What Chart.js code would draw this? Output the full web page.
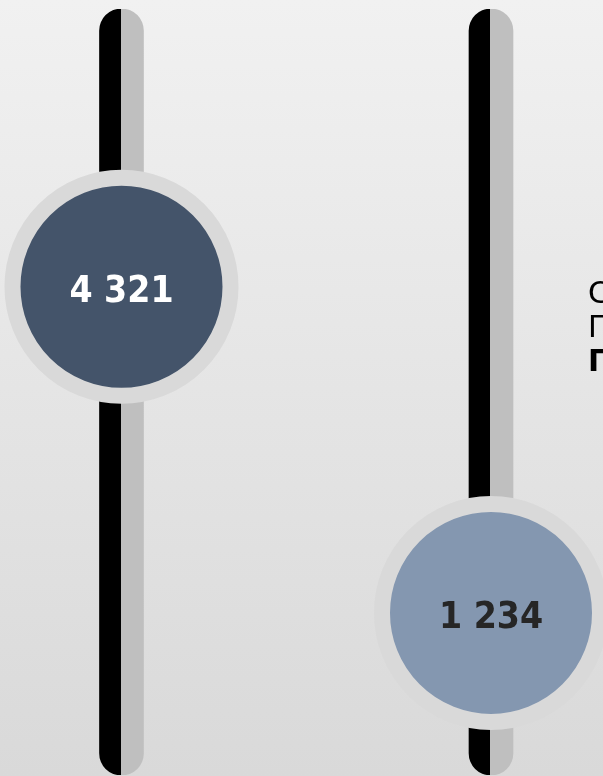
<!DOCTYPE html>
<html>
<head>
<meta charset="utf-8">
<script src="https://cdn.jsdelivr.net/npm/chart.js@4"></script>
<style>
  html, body { margin: 0; padding: 0; }
  body {
    width: 603px; height: 776px; overflow: hidden;
    background: linear-gradient(to bottom, #f1f1f1, #d9d9d9);
  }
  #wrap { position: relative; width: 603px; height: 776px; }
</style>
</head>
<body>
<div id="wrap"><canvas id="chart" width="603" height="776"></canvas></div>
<script>
// Data
const positions = [1, 2];
const values = [4321, 1234];
const valueLabels = ['4 321', '1 234'];
const fillColors = ['#44546a', '#8497b0'];
const labelColors = ['#ffffff', '#262626'];
const axisMin = -300;
const axisMax = 6950;
const sideLines = ['Сумма', 'План', 'Прогноз'];

// horizontal gradient with a hard stop: black left half, grey right half
function trackFill(c) {
  const xs = c.chart.scales && c.chart.scales.x;
  if (c.type !== 'data' || !xs || !c.raw) return '#000';
  const px = xs.getPixelForValue(c.raw.x);
  if (!isFinite(px)) return '#000';
  const g = c.chart.ctx.createLinearGradient(px - 22, 0, px + 22, 0);
  g.addColorStop(0, '#000000');
  g.addColorStop(0.48, '#000000');
  g.addColorStop(0.48, '#bfbfbf');
  g.addColorStop(1, '#bfbfbf');
  return g;
}

// Draws the value text inside the circles and the side caption.
const labelPlugin = {
  id: 'labels',
  afterDatasetsDraw(chart) {
    const ctx = chart.ctx;
    const meta = chart.getDatasetMeta(1);
    ctx.save();
    ctx.textAlign = 'center';
    ctx.textBaseline = 'alphabetic';
    ctx.font = 'bold 37px "DejaVu Sans Condensed", "DejaVu Sans"';
    meta.data.forEach((pt, i) => {
      ctx.fillStyle = labelColors[i];
      ctx.fillText(valueLabels[i], pt.x, pt.y + 15);
    });
    ctx.textAlign = 'left';
    ctx.fillStyle = '#000';
    sideLines.forEach((t, i) => {
      ctx.font = (i === 2 ? 'bold ' : '') + '30px "DejaVu Sans"';
      ctx.fillText(t, 588, 303 + i * 34);
    });
    ctx.restore();
  }
};

new Chart(document.getElementById('chart'), {
  type: 'bar',
  data: {
    datasets: [
      {
        type: 'bar',
        data: positions.map(x => ({ x: x, y: [axisMin, axisMax] })),
        backgroundColor: trackFill,
        borderSkipped: false,
        borderRadius: 22,
        barThickness: 44,
        order: 2
      },
      {
        type: 'scatter',
        data: positions.map((x, i) => ({ x: x, y: values[i] })),
        pointRadius: 109,
        pointHoverRadius: 109,
        borderWidth: 16,
        pointBackgroundColor: fillColors,
        pointBorderColor: '#d9d9d9',
        clip: false,
        order: 1
      }
    ]
  },
  options: {
    responsive: false,
    animation: false,
    events: [],
    layout: { autoPadding: false, padding: { top: 9, bottom: 1, left: 0, right: 0 } },
    plugins: { legend: { display: false }, tooltip: { enabled: false } },
    scales: {
      x: { type: 'linear', display: false, offset: false, min: 0.6712, max: 2.3031 },
      y: { display: false, min: axisMin, max: axisMax }
    }
  },
  plugins: [labelPlugin]
});
</script>
</body>
</html>
